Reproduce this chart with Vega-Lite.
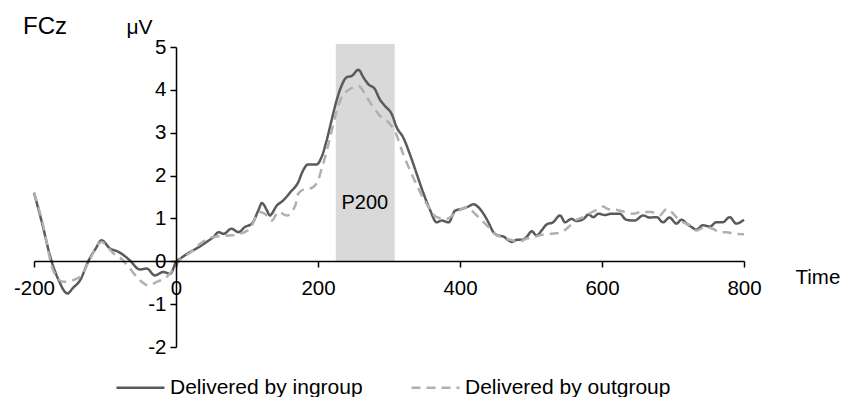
{
  "$schema": "https://vega.github.io/schema/vega-lite/v6.json",
  "width": 710,
  "height": 300,
  "autosize": {"type": "none"},
  "padding": {"left": 34, "top": 47, "right": 100, "bottom": 50},
  "background": "white",
  "title": {"text": "FCz", "frame": "group", "anchor": "start", "fontSize": 24, "fontWeight": "normal", "font": "Liberation Sans", "color": "black", "dx": -11, "offset": -42, "baseline": "alphabetic"},
  "config": {"view": {"stroke": null}, "font": "Liberation Sans"},
  "datasets": {
    "erp": [
      {"t": -200, "v": 1.6, "g": "Delivered by ingroup"},
      {"t": -188, "v": 0.85, "g": "Delivered by ingroup"},
      {"t": -177, "v": 0.1, "g": "Delivered by ingroup"},
      {"t": -165, "v": -0.45, "g": "Delivered by ingroup"},
      {"t": -153, "v": -0.75, "g": "Delivered by ingroup"},
      {"t": -145, "v": -0.62, "g": "Delivered by ingroup"},
      {"t": -135, "v": -0.44, "g": "Delivered by ingroup"},
      {"t": -123, "v": 0.02, "g": "Delivered by ingroup"},
      {"t": -113, "v": 0.3, "g": "Delivered by ingroup"},
      {"t": -105, "v": 0.49, "g": "Delivered by ingroup"},
      {"t": -93, "v": 0.3, "g": "Delivered by ingroup"},
      {"t": -81, "v": 0.22, "g": "Delivered by ingroup"},
      {"t": -72, "v": 0.12, "g": "Delivered by ingroup"},
      {"t": -65, "v": 0.02, "g": "Delivered by ingroup"},
      {"t": -51, "v": -0.19, "g": "Delivered by ingroup"},
      {"t": -41, "v": -0.17, "g": "Delivered by ingroup"},
      {"t": -30, "v": -0.33, "g": "Delivered by ingroup"},
      {"t": -18, "v": -0.25, "g": "Delivered by ingroup"},
      {"t": -8, "v": -0.29, "g": "Delivered by ingroup"},
      {"t": 0, "v": -0.02, "g": "Delivered by ingroup"},
      {"t": 6, "v": 0.06, "g": "Delivered by ingroup"},
      {"t": 20, "v": 0.22, "g": "Delivered by ingroup"},
      {"t": 29, "v": 0.3, "g": "Delivered by ingroup"},
      {"t": 43, "v": 0.45, "g": "Delivered by ingroup"},
      {"t": 53, "v": 0.57, "g": "Delivered by ingroup"},
      {"t": 60, "v": 0.68, "g": "Delivered by ingroup"},
      {"t": 67, "v": 0.64, "g": "Delivered by ingroup"},
      {"t": 78, "v": 0.76, "g": "Delivered by ingroup"},
      {"t": 88, "v": 0.68, "g": "Delivered by ingroup"},
      {"t": 97, "v": 0.8, "g": "Delivered by ingroup"},
      {"t": 107, "v": 0.88, "g": "Delivered by ingroup"},
      {"t": 116, "v": 1.19, "g": "Delivered by ingroup"},
      {"t": 121, "v": 1.36, "g": "Delivered by ingroup"},
      {"t": 128, "v": 1.19, "g": "Delivered by ingroup"},
      {"t": 132, "v": 1.07, "g": "Delivered by ingroup"},
      {"t": 142, "v": 1.3, "g": "Delivered by ingroup"},
      {"t": 151, "v": 1.42, "g": "Delivered by ingroup"},
      {"t": 161, "v": 1.61, "g": "Delivered by ingroup"},
      {"t": 172, "v": 1.84, "g": "Delivered by ingroup"},
      {"t": 179, "v": 2.12, "g": "Delivered by ingroup"},
      {"t": 186, "v": 2.26, "g": "Delivered by ingroup"},
      {"t": 198, "v": 2.26, "g": "Delivered by ingroup"},
      {"t": 205, "v": 2.43, "g": "Delivered by ingroup"},
      {"t": 212, "v": 2.81, "g": "Delivered by ingroup"},
      {"t": 219, "v": 3.28, "g": "Delivered by ingroup"},
      {"t": 226, "v": 3.74, "g": "Delivered by ingroup"},
      {"t": 233, "v": 4.09, "g": "Delivered by ingroup"},
      {"t": 240, "v": 4.29, "g": "Delivered by ingroup"},
      {"t": 248, "v": 4.33, "g": "Delivered by ingroup"},
      {"t": 257, "v": 4.47, "g": "Delivered by ingroup"},
      {"t": 264, "v": 4.29, "g": "Delivered by ingroup"},
      {"t": 271, "v": 4.13, "g": "Delivered by ingroup"},
      {"t": 280, "v": 4.02, "g": "Delivered by ingroup"},
      {"t": 287, "v": 3.78, "g": "Delivered by ingroup"},
      {"t": 294, "v": 3.63, "g": "Delivered by ingroup"},
      {"t": 304, "v": 3.43, "g": "Delivered by ingroup"},
      {"t": 311, "v": 3.12, "g": "Delivered by ingroup"},
      {"t": 320, "v": 2.89, "g": "Delivered by ingroup"},
      {"t": 330, "v": 2.47, "g": "Delivered by ingroup"},
      {"t": 339, "v": 2.04, "g": "Delivered by ingroup"},
      {"t": 348, "v": 1.61, "g": "Delivered by ingroup"},
      {"t": 358, "v": 1.19, "g": "Delivered by ingroup"},
      {"t": 367, "v": 0.91, "g": "Delivered by ingroup"},
      {"t": 374, "v": 0.95, "g": "Delivered by ingroup"},
      {"t": 384, "v": 0.91, "g": "Delivered by ingroup"},
      {"t": 393, "v": 1.18, "g": "Delivered by ingroup"},
      {"t": 402, "v": 1.22, "g": "Delivered by ingroup"},
      {"t": 412, "v": 1.28, "g": "Delivered by ingroup"},
      {"t": 419, "v": 1.33, "g": "Delivered by ingroup"},
      {"t": 426, "v": 1.26, "g": "Delivered by ingroup"},
      {"t": 433, "v": 1.11, "g": "Delivered by ingroup"},
      {"t": 440, "v": 0.91, "g": "Delivered by ingroup"},
      {"t": 447, "v": 0.68, "g": "Delivered by ingroup"},
      {"t": 454, "v": 0.6, "g": "Delivered by ingroup"},
      {"t": 461, "v": 0.58, "g": "Delivered by ingroup"},
      {"t": 468, "v": 0.49, "g": "Delivered by ingroup"},
      {"t": 473, "v": 0.45, "g": "Delivered by ingroup"},
      {"t": 480, "v": 0.5, "g": "Delivered by ingroup"},
      {"t": 487, "v": 0.5, "g": "Delivered by ingroup"},
      {"t": 494, "v": 0.57, "g": "Delivered by ingroup"},
      {"t": 501, "v": 0.7, "g": "Delivered by ingroup"},
      {"t": 508, "v": 0.6, "g": "Delivered by ingroup"},
      {"t": 515, "v": 0.72, "g": "Delivered by ingroup"},
      {"t": 522, "v": 0.86, "g": "Delivered by ingroup"},
      {"t": 531, "v": 0.91, "g": "Delivered by ingroup"},
      {"t": 541, "v": 1.07, "g": "Delivered by ingroup"},
      {"t": 548, "v": 0.91, "g": "Delivered by ingroup"},
      {"t": 557, "v": 0.99, "g": "Delivered by ingroup"},
      {"t": 564, "v": 0.94, "g": "Delivered by ingroup"},
      {"t": 574, "v": 0.99, "g": "Delivered by ingroup"},
      {"t": 581, "v": 1.09, "g": "Delivered by ingroup"},
      {"t": 588, "v": 1.03, "g": "Delivered by ingroup"},
      {"t": 595, "v": 1.11, "g": "Delivered by ingroup"},
      {"t": 604, "v": 1.08, "g": "Delivered by ingroup"},
      {"t": 613, "v": 1.11, "g": "Delivered by ingroup"},
      {"t": 625, "v": 1.11, "g": "Delivered by ingroup"},
      {"t": 634, "v": 0.97, "g": "Delivered by ingroup"},
      {"t": 646, "v": 0.95, "g": "Delivered by ingroup"},
      {"t": 658, "v": 1.07, "g": "Delivered by ingroup"},
      {"t": 667, "v": 1.02, "g": "Delivered by ingroup"},
      {"t": 677, "v": 1.03, "g": "Delivered by ingroup"},
      {"t": 686, "v": 0.91, "g": "Delivered by ingroup"},
      {"t": 695, "v": 1.02, "g": "Delivered by ingroup"},
      {"t": 705, "v": 0.88, "g": "Delivered by ingroup"},
      {"t": 712, "v": 0.97, "g": "Delivered by ingroup"},
      {"t": 719, "v": 0.88, "g": "Delivered by ingroup"},
      {"t": 726, "v": 0.8, "g": "Delivered by ingroup"},
      {"t": 733, "v": 0.74, "g": "Delivered by ingroup"},
      {"t": 742, "v": 0.84, "g": "Delivered by ingroup"},
      {"t": 752, "v": 0.81, "g": "Delivered by ingroup"},
      {"t": 761, "v": 0.91, "g": "Delivered by ingroup"},
      {"t": 770, "v": 0.91, "g": "Delivered by ingroup"},
      {"t": 780, "v": 1.03, "g": "Delivered by ingroup"},
      {"t": 789, "v": 0.88, "g": "Delivered by ingroup"},
      {"t": 800, "v": 0.97, "g": "Delivered by ingroup"},
      {"t": -200, "v": 1.6, "g": "Delivered by outgroup"},
      {"t": -188, "v": 0.9, "g": "Delivered by outgroup"},
      {"t": -173, "v": -0.21, "g": "Delivered by outgroup"},
      {"t": -159, "v": -0.48, "g": "Delivered by outgroup"},
      {"t": -145, "v": -0.44, "g": "Delivered by outgroup"},
      {"t": -133, "v": -0.33, "g": "Delivered by outgroup"},
      {"t": -121, "v": 0.06, "g": "Delivered by outgroup"},
      {"t": -105, "v": 0.45, "g": "Delivered by outgroup"},
      {"t": -88, "v": 0.18, "g": "Delivered by outgroup"},
      {"t": -77, "v": 0.06, "g": "Delivered by outgroup"},
      {"t": -65, "v": -0.17, "g": "Delivered by outgroup"},
      {"t": -51, "v": -0.44, "g": "Delivered by outgroup"},
      {"t": -39, "v": -0.56, "g": "Delivered by outgroup"},
      {"t": -27, "v": -0.48, "g": "Delivered by outgroup"},
      {"t": -13, "v": -0.36, "g": "Delivered by outgroup"},
      {"t": 0, "v": -0.1, "g": "Delivered by outgroup"},
      {"t": 6, "v": 0.04, "g": "Delivered by outgroup"},
      {"t": 20, "v": 0.2, "g": "Delivered by outgroup"},
      {"t": 34, "v": 0.41, "g": "Delivered by outgroup"},
      {"t": 53, "v": 0.57, "g": "Delivered by outgroup"},
      {"t": 74, "v": 0.6, "g": "Delivered by outgroup"},
      {"t": 90, "v": 0.64, "g": "Delivered by outgroup"},
      {"t": 104, "v": 0.76, "g": "Delivered by outgroup"},
      {"t": 118, "v": 1.15, "g": "Delivered by outgroup"},
      {"t": 128, "v": 1.07, "g": "Delivered by outgroup"},
      {"t": 135, "v": 0.95, "g": "Delivered by outgroup"},
      {"t": 144, "v": 1.15, "g": "Delivered by outgroup"},
      {"t": 156, "v": 1.07, "g": "Delivered by outgroup"},
      {"t": 168, "v": 1.3, "g": "Delivered by outgroup"},
      {"t": 172, "v": 1.57, "g": "Delivered by outgroup"},
      {"t": 179, "v": 1.67, "g": "Delivered by outgroup"},
      {"t": 191, "v": 1.71, "g": "Delivered by outgroup"},
      {"t": 200, "v": 1.88, "g": "Delivered by outgroup"},
      {"t": 205, "v": 2.15, "g": "Delivered by outgroup"},
      {"t": 210, "v": 2.43, "g": "Delivered by outgroup"},
      {"t": 217, "v": 2.89, "g": "Delivered by outgroup"},
      {"t": 224, "v": 3.36, "g": "Delivered by outgroup"},
      {"t": 233, "v": 3.82, "g": "Delivered by outgroup"},
      {"t": 245, "v": 4.02, "g": "Delivered by outgroup"},
      {"t": 257, "v": 4.09, "g": "Delivered by outgroup"},
      {"t": 269, "v": 3.82, "g": "Delivered by outgroup"},
      {"t": 278, "v": 3.59, "g": "Delivered by outgroup"},
      {"t": 287, "v": 3.4, "g": "Delivered by outgroup"},
      {"t": 297, "v": 3.28, "g": "Delivered by outgroup"},
      {"t": 309, "v": 3.01, "g": "Delivered by outgroup"},
      {"t": 320, "v": 2.5, "g": "Delivered by outgroup"},
      {"t": 334, "v": 1.96, "g": "Delivered by outgroup"},
      {"t": 353, "v": 1.34, "g": "Delivered by outgroup"},
      {"t": 367, "v": 1.03, "g": "Delivered by outgroup"},
      {"t": 381, "v": 0.99, "g": "Delivered by outgroup"},
      {"t": 395, "v": 1.15, "g": "Delivered by outgroup"},
      {"t": 409, "v": 1.26, "g": "Delivered by outgroup"},
      {"t": 414, "v": 1.22, "g": "Delivered by outgroup"},
      {"t": 421, "v": 1.11, "g": "Delivered by outgroup"},
      {"t": 431, "v": 0.95, "g": "Delivered by outgroup"},
      {"t": 440, "v": 0.8, "g": "Delivered by outgroup"},
      {"t": 449, "v": 0.64, "g": "Delivered by outgroup"},
      {"t": 461, "v": 0.55, "g": "Delivered by outgroup"},
      {"t": 473, "v": 0.49, "g": "Delivered by outgroup"},
      {"t": 482, "v": 0.45, "g": "Delivered by outgroup"},
      {"t": 494, "v": 0.53, "g": "Delivered by outgroup"},
      {"t": 506, "v": 0.57, "g": "Delivered by outgroup"},
      {"t": 515, "v": 0.62, "g": "Delivered by outgroup"},
      {"t": 529, "v": 0.64, "g": "Delivered by outgroup"},
      {"t": 543, "v": 0.68, "g": "Delivered by outgroup"},
      {"t": 553, "v": 0.8, "g": "Delivered by outgroup"},
      {"t": 562, "v": 0.95, "g": "Delivered by outgroup"},
      {"t": 574, "v": 1.03, "g": "Delivered by outgroup"},
      {"t": 586, "v": 1.15, "g": "Delivered by outgroup"},
      {"t": 595, "v": 1.22, "g": "Delivered by outgroup"},
      {"t": 602, "v": 1.28, "g": "Delivered by outgroup"},
      {"t": 608, "v": 1.22, "g": "Delivered by outgroup"},
      {"t": 620, "v": 1.2, "g": "Delivered by outgroup"},
      {"t": 632, "v": 1.15, "g": "Delivered by outgroup"},
      {"t": 644, "v": 1.11, "g": "Delivered by outgroup"},
      {"t": 655, "v": 1.15, "g": "Delivered by outgroup"},
      {"t": 670, "v": 1.15, "g": "Delivered by outgroup"},
      {"t": 681, "v": 1.07, "g": "Delivered by outgroup"},
      {"t": 691, "v": 1.22, "g": "Delivered by outgroup"},
      {"t": 698, "v": 1.15, "g": "Delivered by outgroup"},
      {"t": 707, "v": 0.99, "g": "Delivered by outgroup"},
      {"t": 714, "v": 0.91, "g": "Delivered by outgroup"},
      {"t": 724, "v": 0.84, "g": "Delivered by outgroup"},
      {"t": 733, "v": 0.72, "g": "Delivered by outgroup"},
      {"t": 745, "v": 0.8, "g": "Delivered by outgroup"},
      {"t": 756, "v": 0.76, "g": "Delivered by outgroup"},
      {"t": 766, "v": 0.68, "g": "Delivered by outgroup"},
      {"t": 775, "v": 0.68, "g": "Delivered by outgroup"},
      {"t": 787, "v": 0.64, "g": "Delivered by outgroup"},
      {"t": 800, "v": 0.63, "g": "Delivered by outgroup"}
    ]
  },
  "layer": [
    {
      "data": {"values": [{"start": 225, "end": 308, "low": 0, "high": 5.07}]},
      "mark": {"type": "rect", "color": "#d9d9d9"},
      "encoding": {
        "x": {"field": "start", "type": "quantitative"},
        "x2": {"field": "end"},
        "y": {"field": "low", "type": "quantitative"},
        "y2": {"field": "high"}
      }
    },
    {
      "data": {"values": [{"label": "P200", "lt": 266, "lv": 1.35}]},
      "mark": {"type": "text", "fontSize": 20, "font": "Liberation Sans", "color": "black", "align": "center", "baseline": "middle"},
      "encoding": {
        "x": {"field": "lt", "type": "quantitative"},
        "y": {"field": "lv", "type": "quantitative"},
        "text": {"field": "label"}
      }
    },
    {
      "data": {"name": "erp"},
      "mark": {"type": "line", "strokeWidth": 2.5, "interpolate": "monotone", "clip": false},
      "encoding": {
        "x": {
          "field": "t", "type": "quantitative",
          "scale": {"domain": [-200, 800], "nice": false, "zero": false},
          "axis": {"values": [-200, 0, 200, 400, 600, 800], "offset": -86, "grid": false, "zindex": 1,
            "labelExpr": "replace(datum.label, '−', '-')",
            "domainColor": "black", "domainWidth": 1.5, "tickColor": "black", "tickWidth": 1.5, "tickSize": 6,
            "labelFontSize": 20.5, "labelColor": "black", "labelPadding": 11, "labelFont": "Liberation Sans", "labelFlush": false, "labelOverlap": false,
            "title": "Time", "titleFont": "Liberation Sans", "titleFontSize": 20.5, "titleFontWeight": "normal", "titleColor": "black",
            "titleAngle": 0, "titleAlign": "left", "titleBaseline": "middle", "titleX": 761, "titleY": 16}
        },
        "y": {
          "field": "v", "type": "quantitative",
          "scale": {"domain": [-2, 5], "nice": false, "zero": false},
          "axis": {"values": [-2, -1, 0, 1, 2, 3, 4, 5], "offset": -142, "grid": false, "zindex": 1,
            "labelExpr": "replace(datum.label, '−', '-')",
            "domainColor": "black", "domainWidth": 1.5, "tickColor": "black", "tickWidth": 1.5, "tickSize": 6,
            "labelFontSize": 20.5, "labelColor": "black", "labelPadding": 4, "labelFont": "Liberation Sans", "labelFlush": false, "labelOverlap": false,
            "title": "μV", "titleFont": "Liberation Sans", "titleFontSize": 21, "titleFontWeight": "normal", "titleColor": "black",
            "titleAngle": 0, "titleAlign": "right", "titleBaseline": "alphabetic", "titleX": -24, "titleY": -14}
        },
        "color": {
          "field": "g", "type": "nominal",
          "scale": {"domain": ["Delivered by ingroup", "Delivered by outgroup"], "range": ["#5a5a5a", "#b0b0b0"]},
          "legend": {"orient": "none", "legendX": 81, "legendY": 315, "direction": "horizontal", "title": null,
            "symbolType": "stroke", "symbolSize": 2304, "symbolStrokeWidth": 2.5, "labelFontSize": 21, "labelFont": "Liberation Sans",
            "labelOffset": 4, "labelLimit": 400, "columnPadding": 43, "labelColor": "black"}
        },
        "strokeDash": {
          "field": "g", "type": "nominal",
          "scale": {"domain": ["Delivered by ingroup", "Delivered by outgroup"], "range": [[1, 0], [9, 6]]}
        }
      }
    }
  ]
}
